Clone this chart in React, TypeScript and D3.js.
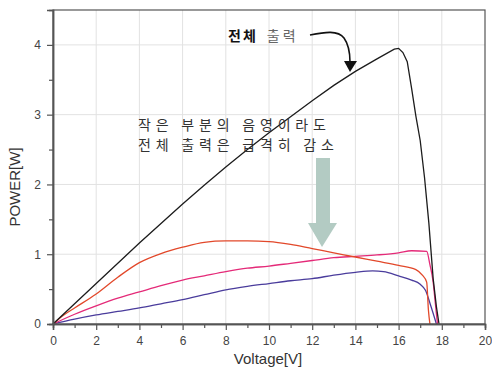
import * as d3 from 'd3';
import React, { useEffect, useRef } from 'react';

// Series: [voltage, power]
const totalOutput: [number, number][] = [
  [0, 0], [1, 0.29], [2, 0.58], [4, 1.16], [6, 1.72], [7, 1.99], [8, 2.25], [9, 2.5], [10, 2.74],
  [11, 2.97], [12, 3.2], [13, 3.42], [14, 3.62], [15, 3.8], [15.8, 3.94], [16.0, 3.95],
  [16.2, 3.89], [16.4, 3.76], [16.6, 3.38], [16.8, 2.98], [17.0, 2.63], [17.2, 2.1],
  [17.4, 1.45], [17.6, 0.65], [17.75, 0.25], [17.87, 0],
];
const shadeRed: [number, number][] = [
  [0, 0], [0.5, 0.13], [1, 0.23], [2, 0.43], [3, 0.67], [4, 0.88], [5, 1.01], [6, 1.1],
  [7, 1.17], [8, 1.19], [9, 1.19], [10, 1.18], [11, 1.14], [12, 1.08], [13, 1.02],
  [14, 0.96], [15, 0.9], [16, 0.84], [16.8, 0.78], [17.1, 0.7], [17.3, 0.6], [17.38, 0.2], [17.45, 0],
];
const shadePink: [number, number][] = [
  [0, 0], [1, 0.14], [2, 0.26], [3, 0.37], [4, 0.46], [5, 0.55], [6, 0.63], [7, 0.69],
  [8, 0.75], [9, 0.8], [10, 0.83], [11, 0.87], [12, 0.91], [13, 0.95], [14, 0.97],
  [15, 0.99], [16, 1.02], [16.6, 1.05], [17.3, 1.04], [17.45, 0.85], [17.6, 0.6], [17.7, 0.3], [17.8, 0],
];
const shadeBlue: [number, number][] = [
  [0, 0], [1, 0.07], [2, 0.13], [3, 0.18], [4, 0.23], [5, 0.29], [6, 0.35], [7, 0.42],
  [8, 0.49], [9, 0.54], [10, 0.58], [11, 0.62], [12, 0.65], [13, 0.7], [14, 0.74],
  [14.8, 0.76], [15.3, 0.75], [16, 0.69], [16.6, 0.63], [17.0, 0.57], [17.25, 0.48],
  [17.5, 0.25], [17.75, 0],
];

const xTicks = [0, 2, 4, 6, 8, 10, 12, 14, 16, 18, 20];
const yTicks = [0, 1, 2, 3, 4];

const seriesList = [
  { data: shadeBlue, color: '#4a3c9c' },
  { data: shadePink, color: '#e42a78' },
  { data: shadeRed, color: '#e2482a' },
  { data: totalOutput, color: '#1c1c1c' },
];

function App() {
  const svgRef = useRef<SVGSVGElement>(null);
  const width = 492;
  const height = 374;

  useEffect(() => {
    const svg = d3.select(svgRef.current);
    svg.selectAll('*').remove();

    const margin = { top: 10, right: 7, bottom: 50, left: 53 };
    const innerWidth = width - margin.left - margin.right;
    const innerHeight = height - margin.top - margin.bottom;

    const x = d3.scaleLinear().domain([0, 20]).range([0, innerWidth]);
    const y = d3.scaleLinear().domain([0, 4.5]).range([innerHeight, 0]);

    const g = svg.append('g').attr('transform', `translate(${margin.left},${margin.top})`);

    // grid
    g.append('g')
      .selectAll('line')
      .data(xTicks.slice(1, -1))
      .join('line')
      .attr('x1', d => x(d)).attr('x2', d => x(d))
      .attr('y1', 0).attr('y2', innerHeight)
      .attr('stroke', '#e2e2e2');
    g.append('g')
      .selectAll('line')
      .data(yTicks.slice(1))
      .join('line')
      .attr('x1', 0).attr('x2', innerWidth)
      .attr('y1', d => y(d)).attr('y2', d => y(d))
      .attr('stroke', '#e2e2e2');

    // lines
    const line = d3.line<[number, number]>()
      .x(d => x(d[0]))
      .y(d => y(d[1]))
      .curve(d3.curveMonotoneX);
    const lineFree = d3.line<[number, number]>()
      .x(d => x(d[0]))
      .y(d => y(d[1]))
      .curve(d3.curveLinear);
    seriesList.forEach(s => {
      g.append('path')
        .datum(s.data)
        .attr('d', s.data === totalOutput ? lineFree : line)
        .attr('fill', 'none')
        .attr('stroke', s.color)
        .attr('stroke-width', 1.3);
    });

    // frame
    g.append('rect')
      .attr('width', innerWidth).attr('height', innerHeight)
      .attr('fill', 'none').attr('stroke', '#555').attr('stroke-width', 1.2);

    // axes
    const xAxis = d3.axisBottom(x).tickValues(xTicks).tickSize(6).tickPadding(6).tickFormat(d3.format('d'));
    const xMinor = d3.axisBottom(x).tickValues(d3.range(1, 20, 2)).tickSize(4).tickFormat(() => '');
    const yAxis = d3.axisLeft(y).tickValues(yTicks).tickSize(6).tickPadding(6).tickFormat(d3.format('d'));
    const yMinor = d3.axisLeft(y).tickValues([0.5, 1.5, 2.5, 3.5]).tickSize(4).tickFormat(() => '');

    const styleAxis = (sel: any) => {
      sel.select('.domain').attr('stroke', '#555').attr('stroke-width', 1.5);
      sel.selectAll('line').attr('stroke', '#555').attr('stroke-width', 1.2);
      sel.selectAll('text')
        .attr('fill', '#444')
        .style('font-family', 'Arial, "Liberation Sans", sans-serif')
        .style('font-size', '12px');
    };
    g.append('g').attr('transform', `translate(0,${innerHeight})`).call(xMinor).call(styleAxis);
    g.append('g').attr('transform', `translate(0,${innerHeight})`).call(xAxis).call(styleAxis);
    g.append('g').call(yMinor).call(styleAxis);
    g.append('g').call(yAxis).call(styleAxis);

    // axis labels
    svg.append('text')
      .attr('x', 268).attr('y', 364)
      .attr('text-anchor', 'middle')
      .attr('fill', '#333')
      .style('font-family', 'Arial, "Liberation Sans", sans-serif')
      .style('font-size', '15px')
      .text('Voltage[V]');
    svg.append('text')
      .attr('transform', 'translate(20,187) rotate(-90)')
      .attr('text-anchor', 'middle')
      .attr('fill', '#333')
      .style('font-family', 'Arial, "Liberation Sans", sans-serif')
      .style('font-size', '15px')
      .text('POWER[W]');

    const kr = '"Noto Sans CJK KR", sans-serif';

    // "전체 출력" annotation
    const t1 = svg.append('text')
      .attr('x', 228).attr('y', 41)
      .style('font-family', kr)
      .style('font-size', '14px');
    t1.append('tspan').attr('font-weight', 'bold').attr('fill', '#111').attr('letter-spacing', '2px').text('전체');
    t1.append('tspan').attr('dx', 9).attr('fill', '#666').attr('letter-spacing', '3px').text('출력');

    svg.append('path')
      .attr('d', 'M310,35 C325,32 338,30 344,38 C349,45 350,52 350,62')
      .attr('fill', 'none').attr('stroke', '#111').attr('stroke-width', 1.6);
    svg.append('path')
      .attr('d', 'M344,61 L357,61 L350,72 Z')
      .attr('fill', '#111');

    // explanatory text
    const note = svg.append('g')
      .style('font-family', kr)
      .style('font-size', '14px')
      .attr('fill', '#333')
      .attr('letter-spacing', '4.8px');
    note.append('text').attr('x', 138).attr('y', 130).text('작은 부분의 음영이라도');
    note.append('text').attr('x', 138).attr('y', 150).text('전체 출력은 급격히 감소');

    // big shaded arrow
    svg.append('path')
      .attr('d', 'M316,158 L330,158 L330,223 L337,223 L322,247 L308,223 L316,223 Z')
      .attr('fill', '#b3cbc3');
  }, []);

  return (
    <svg
      ref={svgRef}
      width={width}
      height={height}
      style={{ position: 'absolute', left: 0, top: 0, background: '#fff' }}
    />
  );
}

export default App;
